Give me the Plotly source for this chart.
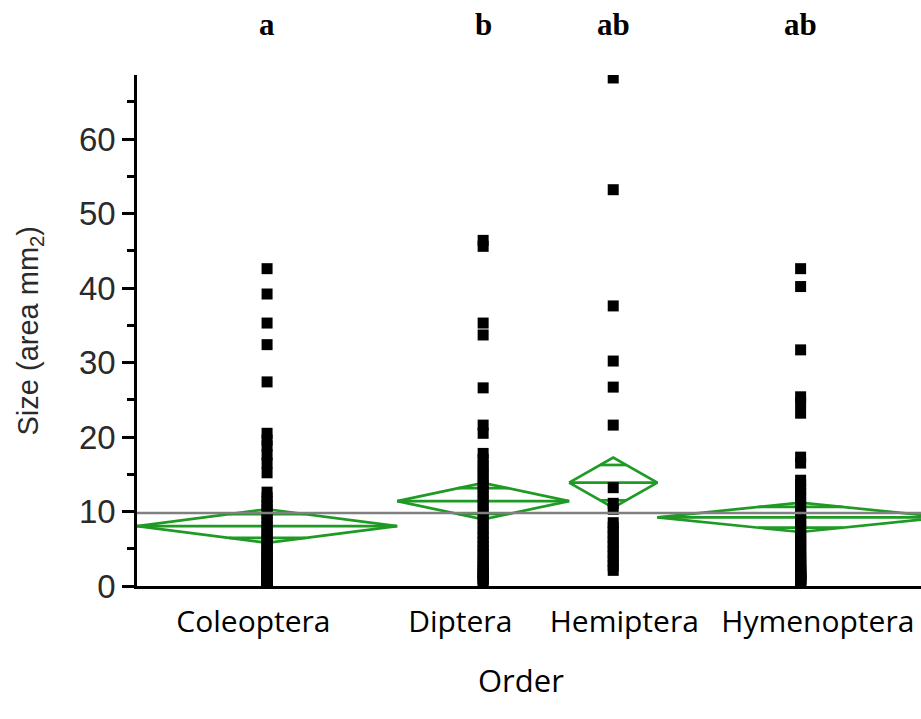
import math
import plotly.graph_objects as go

# ---- data -------------------------------------------------------------
orders = ["Coleoptera", "Diptera", "Hemiptera", "Hymenoptera"]

coleoptera = [42.6, 39.2, 35.3, 32.4, 27.4,
              20.5, 19.6, 18.8, 17.6, 16.5, 15.2,
              12.6, 11.9, 11.3, 10.8, 10.2, 9.7, 9.1, 8.6, 8.0, 7.5,
              7.1, 6.6, 6.2, 5.8, 5.4, 5.0, 4.7, 4.4, 4.1, 3.8,
              3.5, 3.3, 3.0, 2.8, 2.6, 2.4, 2.2, 2.0, 1.9, 1.7,
              1.6, 1.5, 1.4, 1.3, 1.2, 1.1, 1.0, 0.9, 0.9, 0.8,
              0.8, 0.7, 0.7, 0.6, 0.6, 0.5, 0.5, 0.4]

diptera = [46.4, 45.6, 35.3, 33.7, 26.6, 21.6, 20.5,
           17.8, 17.0, 16.2, 15.5, 14.8, 14.1, 13.4, 12.7, 12.0, 11.3,
           10.6, 9.9, 9.2, 8.5, 7.8, 7.1, 6.5, 5.9, 5.3, 4.8,
           4.3, 3.8, 3.3, 2.9, 2.5, 2.1, 1.8, 1.5, 1.2, 1.0, 0.8, 0.7]

hemiptera = [68.2, 53.2, 37.6, 30.2, 26.7, 21.6, 13.2, 11.1, 10.3,
             8.5, 7.9, 7.2, 6.6, 5.9, 5.3, 4.6, 4.0, 3.3, 2.7, 2.1]

hymenoptera = [42.6, 40.2, 31.7, 25.4, 24.6, 23.2, 17.3, 16.5,
               14.2, 13.6, 13.0, 12.4, 11.8, 11.2, 10.7, 10.2, 9.7, 9.2,
               8.8, 8.4, 8.0, 7.6, 7.2, 6.8, 6.5, 6.2, 5.9, 5.6,
               5.3, 5.0, 4.7, 4.4, 4.1, 3.9, 3.7, 3.5, 3.3, 3.1,
               2.9, 2.7, 2.5, 2.3, 2.2, 2.1, 2.0, 1.9, 1.8, 1.7,
               1.6, 1.5, 1.4, 1.3, 1.2, 1.1, 1.0, 1.0, 0.9, 0.9,
               0.8, 0.8, 0.7, 0.7, 0.6, 0.6, 0.5]

group_values = [coleoptera, diptera, hemiptera, hymenoptera]

# means and 95% confidence half-widths of the means diamonds
group_mean = [8.05, 11.4, 13.87, 9.22]
ci_half = [2.25, 2.45, 3.36, 1.97]

# Tukey grouping letters
letters = ["a", "b", "ab", "ab"]

y_ticks = [0, 10, 20, 30, 40, 50, 60]

# ---- layout settings ---------------------------------------------------
GREEN = "#1f9a24"
X_MAX = 177.8          # visible part of the sample-size scaled x axis
Y_MAX = 68.6
label_shift = [-3.1, -5.2, 2.5, 3.9]   # nudges for the category labels

# each order gets a slice of the x axis proportional to its sample size
counts = [len(v) for v in group_values]
lefts, acc = [], 0
for n in counts:
    lefts.append(acc)
    acc += n
centers = [l + n / 2 for l, n in zip(lefts, counts)]
total_n = sum(counts)
grand_mean = sum(m * n for m, n in zip(group_mean, counts)) / total_n

fig = go.Figure()

# means diamonds, mean lines and overlap marks
dx, dy = [], []
for l, n, c, m, h in zip(lefts, counts, centers, group_mean, ci_half):
    r = l + n
    dx += [l, c, r, c, l, None, l, r, None]
    dy += [m, m + h, m, m - h, m, None, m, m, None]
    d = h / math.sqrt(2)
    hw = (n / 2) * (1 - 1 / math.sqrt(2))
    for s in (1, -1):
        dx += [c - hw, c + hw, None]
        dy += [m + s * d, m + s * d, None]
fig.add_trace(go.Scatter(x=dx, y=dy, mode="lines",
                         line=dict(color=GREEN, width=2.7),
                         hoverinfo="skip", showlegend=False))

# individual observations
for c, vals, name in zip(centers, group_values, orders):
    fig.add_trace(go.Scatter(x=[c] * len(vals), y=vals, mode="markers",
                             name=name, showlegend=False,
                             marker=dict(symbol="square", size=11,
                                         color="black", line=dict(width=0))))

# grand mean reference line
fig.add_trace(go.Scatter(x=[0, total_n], y=[grand_mean, grand_mean],
                         mode="lines", line=dict(color="#808080", width=2.5),
                         hoverinfo="skip", showlegend=False))

# grouping letters above each order
for c, t in zip(centers, letters):
    fig.add_annotation(x=c, xref="x", y=1.0998, yref="paper",
                       text=f"<b>{t}</b>", showarrow=False,
                       xanchor="center", yanchor="middle",
                       font=dict(family="Liberation Serif", size=31,
                                 color="black"))

# axis titles
fig.add_annotation(x=-(137 - 29) / 784, xref="paper", y=0.5, yref="paper",
                   text="Size (area mm<sub>2</sub>)", textangle=-90,
                   showarrow=False, xanchor="center", yanchor="middle",
                   font=dict(family="Liberation Sans", size=29,
                             color="#2a2a2a"))
fig.add_annotation(x=(521 - 137) / 784, xref="paper",
                   y=-(680 - 586) / 511, yref="paper",
                   text="Order", showarrow=False,
                   xanchor="center", yanchor="middle",
                   font=dict(family="Open Sans", size=31, color="black"))

fig.update_layout(
    width=921, height=719,
    margin=dict(l=137, r=0, t=75, b=133),
    paper_bgcolor="white", plot_bgcolor="white",
    showlegend=False,
)
fig.update_xaxes(
    range=[0, X_MAX], showgrid=False, zeroline=False,
    showline=True, linecolor="black", linewidth=3,
    tickmode="array",
    tickvals=[c + s for c, s in zip(centers, label_shift)],
    ticktext=orders, ticks="", ticklabelstandoff=7,
    tickfont=dict(family="Open Sans", size=30, color="black"),
)
fig.update_yaxes(
    range=[0, Y_MAX], showgrid=False, zeroline=False,
    showline=True, linecolor="black", linewidth=2.5,
    tickmode="array", tickvals=y_ticks,
    ticks="outside", ticklen=12, tickwidth=2.5, tickcolor="black",
    minor=dict(dtick=5, ticks="outside", ticklen=7, tickwidth=2.5,
               tickcolor="black", showgrid=False),
    tickfont=dict(family="Liberation Sans", size=33, color="#2a2a2a"),
)

fig.write_html("out.html")
